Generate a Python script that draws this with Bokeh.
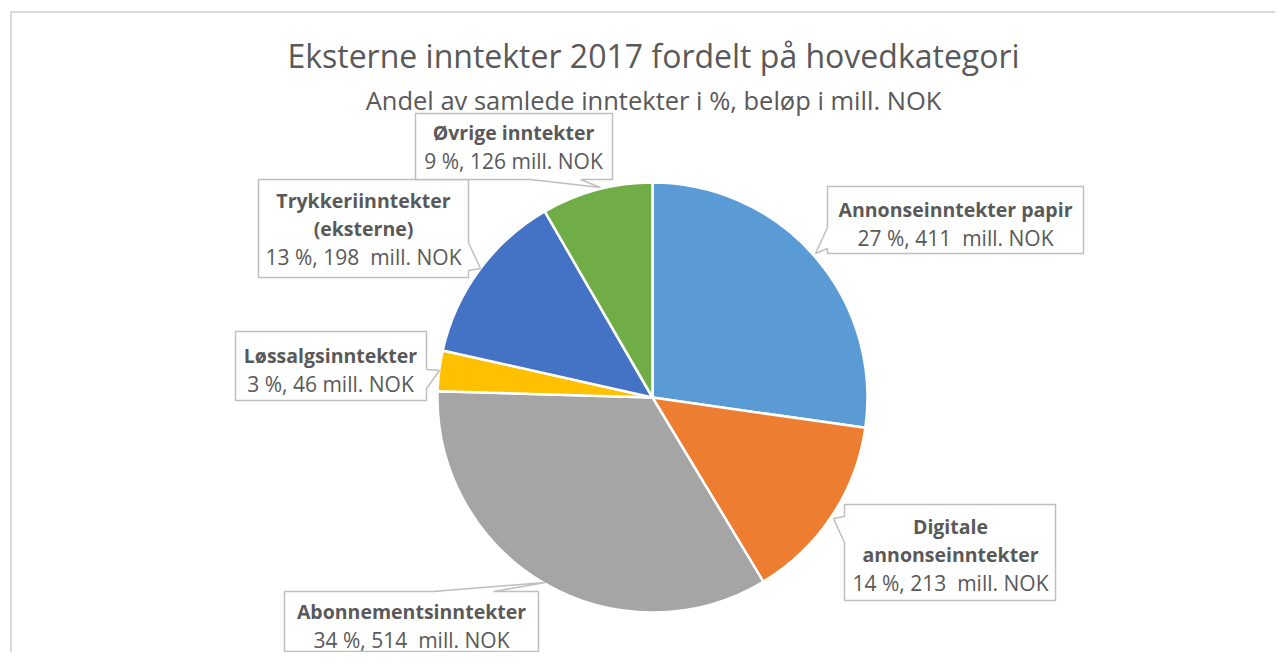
import numpy as np
from bokeh.plotting import figure
from bokeh.models import Range1d, ColumnDataSource
from bokeh.core.properties import value
from bokeh.embed import file_html
from bokeh.resources import INLINE

# ---------------- data ----------------
categories = ["Annonseinntekter papir", "Digitale annonseinntekter", "Abonnementsinntekter",
              "Løssalgsinntekter", "Trykkeriinntekter (eksterne)", "Øvrige inntekter"]
amounts = [411, 213, 514, 46, 198, 126]          # mill. NOK
percent_labels = ["27 %", "14 %", "34 %", "3 %", "13 %", "9 %"]
colors = ["#5B9BD5", "#ED7D31", "#A5A5A5", "#FFC000", "#4472C4", "#70AD47"]
name_lines = [["Annonseinntekter papir"], ["Digitale", "annonseinntekter"], ["Abonnementsinntekter"],
              ["Løssalgsinntekter"], ["Trykkeriinntekter", "(eksterne)"], ["Øvrige inntekter"]]
value_gap = ["\u00a0\u00a0", "\u00a0\u00a0", "\u00a0\u00a0", " ", "\u00a0\u00a0", " "]
title_text = "Eksterne inntekter 2017 fordelt på hovedkategori"
subtitle_text = "Andel av samlede inntekter i %, beløp i mill. NOK"

# ---------------- layout (pixels, origin top-left of figure) ----------------
W, H = 1275, 652
FONT = "Open Sans"
cx, cy, R = 652, 397, 215
# box (x0, y0, x1, y1), tail side, tail a, tail b, tip, text centre x, first line y
callouts = [
    ((827, 186, 1083, 253), "left", 227, 248, (815, 253), 955, 209),
    ((844, 504, 1055, 600), "left", 516, 542, (833, 518), 950, 526),
    ((284, 591, 538, 651), "top", 433, 493, (545, 582), 411, 611),
    ((235, 331, 426, 400), "right", 369, 388, (439, 370), 330, 355),
    ((258, 179, 468, 277), "right", 242, 270, (480, 268), 363, 200),
    ((415, 113, 612, 179), "bottom", 530, 580, (600, 187), 513, 132),
]
LINE_H = 28

p = figure(width=W, height=H, output_backend="svg", toolbar_location=None,
           x_range=Range1d(0, W), y_range=Range1d(-H, 0),
           min_border=0, outline_line_color=None)
p.axis.visible = False
p.grid.visible = False
p.background_fill_color = "white"
p.border_fill_color = "white"

# outer chart border
p.line(x=[10.5, 10.5, 1400], y=[-800, -11.5, -11.5], line_color="#D9D9D9", line_width=2)

# pie
total = float(sum(amounts))
fr = np.array(amounts) / total
cum_end = np.cumsum(fr)
cum_start = cum_end - fr
src = ColumnDataSource(dict(
    start=np.pi / 2 - 2 * np.pi * cum_end,
    end=np.pi / 2 - 2 * np.pi * cum_start,
    color=colors, cat=categories))
p.wedge(x=cx, y=-cy, radius=R, start_angle="start", end_angle="end", direction="anticlock",
        fill_color="color", line_color="white", line_width=2.5, source=src)

# titles
p.text(x=[653], y=[-55], text=[title_text], text_font=value(FONT), text_font_size="32px",
       text_color="#595959", text_align="center", text_baseline="middle")
p.text(x=[653], y=[-99], text=[subtitle_text], text_font=value(FONT), text_font_size="25.5px",
       text_color="#595959", text_align="center", text_baseline="middle")


def callout_poly(box, side, a, b, tip):
    x0, y0, x1, y1 = box
    pts = [(x0, y0)]
    if side == "top":
        pts += [(a, y0), tip, (b, y0)]
    pts.append((x1, y0))
    if side == "right":
        pts += [(x1, a), tip, (x1, b)]
    pts.append((x1, y1))
    if side == "bottom":
        pts += [(b, y1), tip, (a, y1)]
    pts.append((x0, y1))
    if side == "left":
        pts += [(x0, b), tip, (x0, a)]
    return [q[0] for q in pts], [-q[1] for q in pts]


xs, ys = [], []
for c in callouts:
    px, py = callout_poly(*c[:5])
    xs.append(px)
    ys.append(py)
p.patches(xs=xs, ys=ys, fill_color="white", line_color="#BFBFBF", line_width=1.5)

bx, by, bt, vx, vy, vt = [], [], [], [], [], []
for i, c in enumerate(callouts):
    tx, ty = c[5], c[6]
    for j, ln in enumerate(name_lines[i]):
        bx.append(tx); by.append(-(ty + j * LINE_H)); bt.append(ln)
    vx.append(tx); vy.append(-(ty + len(name_lines[i]) * LINE_H))
    vt.append(f"{percent_labels[i]}, {amounts[i]}{value_gap[i]}mill. NOK")

p.text(x=bx, y=by, text=bt, text_font=value(FONT), text_font_size="19.5px", text_font_style="bold",
       text_color="#595959", text_align="center", text_baseline="middle")
p.text(x=vx, y=vy, text=vt, text_font=value(FONT), text_font_size="21px",
       text_color="#595959", text_align="center", text_baseline="middle")

open("out.html", "w").write(file_html(p, INLINE))
